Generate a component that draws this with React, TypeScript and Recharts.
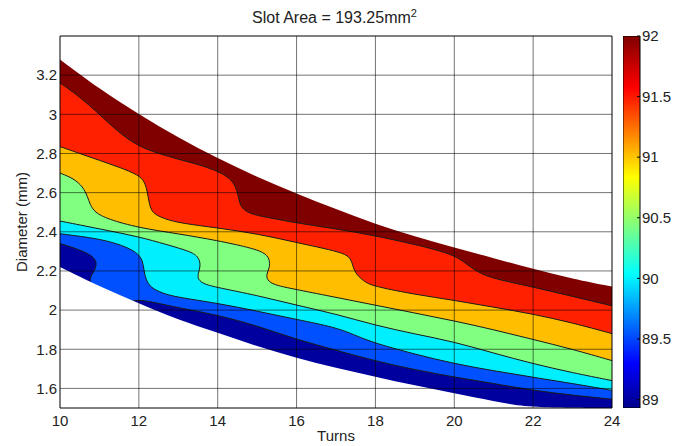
import {
  ComposedChart,
  Area,
  XAxis,
  YAxis,
  ReferenceLine,
  Label,
  BarChart,
  Bar,
} from 'recharts';

const FONT = '"Liberation Sans", Arial, sans-serif';
const TEXT = '#222';

// axis ticks
const turnTicks = [10, 12, 14, 16, 18, 20, 22, 24];
const diameterTicks = [1.6, 1.8, 2, 2.2, 2.4, 2.6, 2.8, 3, 3.2];
const colorTicks = [89, 89.5, 90, 90.5, 91, 91.5, 92];
const colorRange = [88.93, 92];

// contour boundaries, [turns, diameter mm]
const upperEdge: [number, number][] = [
  [10, 3.28], [11, 3.13], [12, 3.0], [13, 2.88], [14, 2.775], [15, 2.68], [16, 2.595],
  [17, 2.515], [18, 2.44], [19, 2.375], [20, 2.32], [21, 2.265], [22, 2.21], [23, 2.16], [24, 2.12],
];
const level9175: [number, number][] = [
  [10, 3.16], [10.5, 3.09], [11, 3.0], [11.5, 2.905], [12, 2.835], [12.5, 2.8], [13, 2.77],
  [13.5, 2.745], [14, 2.71], [14.3, 2.675], [14.45, 2.635], [14.52, 2.585], [14.56, 2.54],
  [14.68, 2.505], [15, 2.482], [15.5, 2.465], [16, 2.445], [17, 2.415], [18, 2.38], [19, 2.335],
  [19.5, 2.31], [20, 2.28], [20.3, 2.238], [20.6, 2.192], [21, 2.16], [22, 2.118], [23, 2.07], [24, 2.022],
];
const level9125: [number, number][] = [
  [10, 2.835], [10.5, 2.8], [11, 2.765], [11.5, 2.73], [12, 2.69], [12.15, 2.655], [12.22, 2.6],
  [12.27, 2.535], [12.35, 2.495], [12.6, 2.47], [13, 2.445], [14, 2.42], [15, 2.39], [16, 2.345],
  [16.7, 2.315], [17.2, 2.29], [17.38, 2.265], [17.43, 2.22], [17.52, 2.18], [17.75, 2.14],
  [18, 2.12], [19, 2.08], [20, 2.05], [21, 2.015], [22, 1.98], [23, 1.935], [24, 1.88],
];
const level9075: [number, number][] = [
  [10, 2.7], [10.35, 2.672], [10.58, 2.63], [10.7, 2.58], [10.76, 2.54], [10.88, 2.5], [11.2, 2.465],
  [12, 2.42], [13, 2.39], [14, 2.355], [14.8, 2.32], [15.18, 2.295], [15.32, 2.262], [15.32, 2.215],
  [15.22, 2.18], [15.28, 2.145], [15.5, 2.125], [16, 2.105], [17, 2.065], [18, 2.025], [19, 1.985],
  [20, 1.945], [21, 1.9], [22, 1.85], [23, 1.8], [24, 1.742],
];
const level9025: [number, number][] = [
  [10, 2.455], [11, 2.415], [12, 2.375], [12.7, 2.335], [13.3, 2.3], [13.5, 2.275], [13.57, 2.235],
  [13.52, 2.195], [13.48, 2.165], [13.6, 2.135], [14, 2.115], [15, 2.075], [16, 2.025], [17, 1.98],
  [18, 1.922], [19, 1.878], [20, 1.838], [21, 1.78], [22, 1.726], [23, 1.68], [24, 1.64],
];
const level8975: [number, number][] = [
  [10, 2.39], [11, 2.365], [11.6, 2.33], [11.95, 2.295], [12.1, 2.255], [12.13, 2.2], [12.18, 2.155],
  [12.3, 2.115], [12.6, 2.085], [13, 2.065], [14, 2.035], [15, 1.995], [16, 1.952], [17, 1.912],
  [17.5, 1.87], [18, 1.83], [19, 1.775], [20, 1.726], [21, 1.69], [22, 1.657], [23, 1.625], [24, 1.59],
];
const level8925: [number, number][] = [
  [10, 2.34], [10.4, 2.315], [10.7, 2.29], [10.85, 2.27], [10.93, 2.245], [10.9, 2.21], [10.8, 2.18],
  [10.74, 2.15], [10.85, 2.1], [11.2, 2.07], [11.5, 2.04], [11.7, 2.04], [11.9, 2.05], [12.1, 2.05],
  [12.5, 2.035], [13, 2.012], [14, 1.975], [15, 1.92], [16, 1.85], [17, 1.795], [18, 1.74], [19, 1.695],
  [20, 1.658], [21, 1.625], [22, 1.59], [23, 1.565], [24, 1.545],
];
const lowerEdge: [number, number][] = [
  [10, 2.22], [11, 2.12], [12, 2.035], [13, 1.95], [14, 1.885], [15, 1.815], [16, 1.755], [17, 1.705],
  [18, 1.66], [19, 1.615], [20, 1.575], [21, 1.535], [21.9, 1.5], [24, 1.5],
];

// painted top-down, each filled down to the axis floor
const bands = [
  { key: 'top', pts: upperEdge, fill: '#800000', line: false },
  { key: 'l9175', pts: level9175, fill: '#ff2000', line: true },
  { key: 'l9125', pts: level9125, fill: '#ffbf00', line: true },
  { key: 'l9075', pts: level9075, fill: '#80ff80', line: true },
  { key: 'l9025', pts: level9025, fill: '#00efff', line: true },
  { key: 'l8975', pts: level8975, fill: '#0050ff', line: true },
  { key: 'l8925', pts: level8925, fill: '#00009f', line: true },
  { key: 'bottom', pts: lowerEdge, fill: '#ffffff', line: false },
];

const rows = (pts: [number, number][]) => pts.map(([t, d]) => ({ t, d }));

const tickStyle = { fill: TEXT, fontSize: 15, fontFamily: FONT };

export default function App() {
  return (
    <div style={{ position: 'absolute', left: 0, top: 0, width: 695, height: 446, background: '#fff', fontFamily: FONT }}>
      <div
        style={{
          position: 'absolute',
          left: 0,
          width: 669,
          top: 8,
          textAlign: 'center',
          fontSize: 16,
          lineHeight: '20px',
          color: TEXT,
        }}
      >
        Slot Area = 193.25mm<sup style={{ fontSize: 11, lineHeight: 0 }}>2</sup>
      </div>

      <div style={{ position: 'absolute', left: 0, top: 0 }}>
        <ComposedChart width={695} height={446} margin={{ top: 36, right: 83, bottom: 13, left: 0 }}>
          <XAxis
            dataKey="t"
            type="number"
            domain={[10, 24]}
            ticks={turnTicks}
            allowDataOverflow
            height={25}
            axisLine={false}
            tickLine={false}
            tickSize={0}
            tickMargin={7}
            tick={tickStyle}
          >
            <Label value="Turns" position="bottom" offset={-3} style={{ fill: TEXT, fontSize: 15, fontFamily: FONT }} />
          </XAxis>
          <YAxis
            type="number"
            domain={[1.5, 3.4]}
            ticks={diameterTicks}
            allowDataOverflow
            width={60}
            axisLine={false}
            tickLine={false}
            tickSize={0}
            tickMargin={3}
            tick={tickStyle}
          >
            <Label
              value="Diameter (mm)"
              angle={-90}
              position="center"
              dx={-8}
              style={{ fill: TEXT, fontSize: 15, fontFamily: FONT, textAnchor: 'middle' }}
            />
          </YAxis>

          {bands.map((b) => (
            <Area
              key={b.key}
              data={rows(b.pts)}
              dataKey="d"
              type="basis"
              baseValue={1.5}
              fill={b.fill}
              fillOpacity={1}
              stroke={b.line ? '#1a1a1a' : 'none'}
              strokeWidth={1}
              dot={false}
              activeDot={false}
              isAnimationActive={false}
            />
          ))}

          {turnTicks.slice(1, -1).map((t) => (
            <ReferenceLine key={`gx${t}`} x={t} stroke="#000" strokeOpacity={0.55} strokeWidth={1} />
          ))}
          {diameterTicks.map((d) => (
            <ReferenceLine key={`gy${d}`} y={d} stroke="#000" strokeOpacity={0.55} strokeWidth={1} />
          ))}
          <ReferenceLine x={10} stroke="#000" strokeWidth={1} />
          <ReferenceLine x={24} stroke="#000" strokeWidth={1} />
          <ReferenceLine y={1.5} stroke="#000" strokeWidth={1} />
          <ReferenceLine y={3.4} stroke="#000" strokeWidth={1} />
        </ComposedChart>
      </div>

      <div style={{ position: 'absolute', left: 623, top: 0 }}>
        <BarChart
          width={72}
          height={446}
          data={[{ name: 'cb', range: colorRange }]}
          margin={{ top: 36, right: 0, bottom: 38, left: 0 }}
          barCategoryGap={0}
          barGap={0}
        >
          <defs>
            <linearGradient id="jet" x1="0" y1="1" x2="0" y2="0">
              <stop offset="0" stopColor="#00008a" />
              <stop offset="0.12" stopColor="#0000ff" />
              <stop offset="0.36" stopColor="#00ffff" />
              <stop offset="0.62" stopColor="#ffff00" />
              <stop offset="0.86" stopColor="#ff0000" />
              <stop offset="1" stopColor="#800000" />
            </linearGradient>
          </defs>
          <XAxis dataKey="name" type="category" hide />
          <YAxis
            orientation="right"
            type="number"
            domain={colorRange}
            ticks={colorTicks}
            allowDataOverflow
            width={55}
            axisLine={false}
            tickSize={-3}
            tickMargin={5}
            tickLine={{ stroke: '#000' }}
            tick={{ ...tickStyle, textAnchor: 'start' }}
          />
          <Bar dataKey="range" fill="url(#jet)" stroke="#000" strokeWidth={1} isAnimationActive={false} />
        </BarChart>
      </div>
    </div>
  );
}
